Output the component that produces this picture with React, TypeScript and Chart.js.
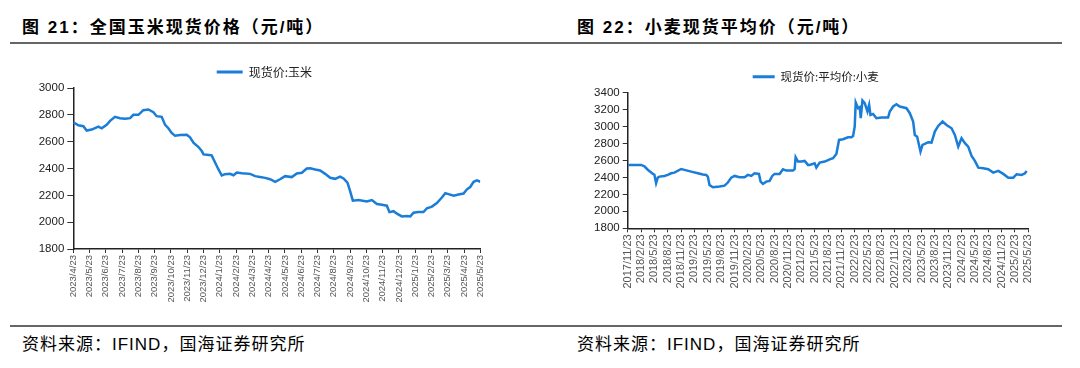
import React, { useEffect, useRef } from 'react';
import { Chart, registerables } from 'chart.js';

Chart.register(...registerables);

// ---------- Data ----------
const cornTitle = '图 21：全国玉米现货价格（元/吨）';
const wheatTitle = '图 22：小麦现货平均价（元/吨）';
const sourceText = '资料来源：IFIND，国海证券研究所';
const cornSeriesName = '现货价:玉米';
const wheatSeriesName = '现货价:平均价:小麦';

// monthly tick labels (x = months since 2023/4/23)
const cornTickLabels = [
  '2023/4/23', '2023/5/23', '2023/6/23', '2023/7/23', '2023/8/23', '2023/9/23',
  '2023/10/23', '2023/11/23', '2023/12/23', '2024/1/23', '2024/2/23', '2024/3/23',
  '2024/4/23', '2024/5/23', '2024/6/23', '2024/7/23', '2024/8/23', '2024/9/23',
  '2024/10/23', '2024/11/23', '2024/12/23', '2025/1/23', '2025/2/23', '2025/3/23',
  '2025/4/23', '2025/5/23',
];
const cornX = [
  0, 0.31, 0.62, 0.82, 1.13, 1.54, 1.74, 2.05, 2.26, 2.56, 2.87, 3.18, 3.49, 3.69,
  4.0, 4.3, 4.61, 4.92, 5.12, 5.43, 5.64, 5.84, 6.04, 6.25, 6.56, 6.97, 7.17, 7.38,
  7.69, 7.89, 8.0, 8.2, 8.5, 8.71, 8.91, 9.12, 9.32, 9.63, 9.84, 10.04, 10.35, 10.86,
  11.17, 11.47, 11.78, 12.09, 12.4, 12.7, 13.01, 13.42, 13.73, 14.04, 14.34, 14.55,
  14.86, 15.16, 15.47, 15.78, 16.08, 16.39, 16.6, 16.84, 17.0, 17.17, 17.52, 18.03,
  18.34, 18.65, 18.96, 19.26, 19.42, 19.67, 19.88, 20.18, 20.49, 20.7, 20.9, 21.2,
  21.51, 21.72, 22.03, 22.33, 22.64, 22.85, 23.05, 23.36, 23.66, 23.97, 24.18, 24.38,
  24.59, 24.79, 25.0,
];
const cornPrice = [
  2745, 2722, 2715, 2683, 2690, 2712, 2700, 2725, 2755, 2785, 2775, 2770, 2775, 2800,
  2800, 2835, 2840, 2820, 2790, 2785, 2725, 2700, 2665, 2645, 2650, 2652, 2633, 2592,
  2560, 2530, 2505, 2503, 2498, 2445, 2395, 2348, 2358, 2360, 2350, 2370, 2365, 2360,
  2343, 2337, 2330, 2320, 2300, 2320, 2343, 2336, 2363, 2368, 2400, 2402,
  2392, 2385, 2360, 2331, 2323, 2340, 2326, 2294, 2233, 2160, 2165, 2155,
  2165, 2135, 2130, 2123, 2075, 2082, 2063, 2043, 2046, 2043, 2070, 2075,
  2075, 2104, 2116, 2143, 2184, 2216, 2209, 2197, 2206, 2213, 2245, 2262,
  2301, 2311, 2301,
];

// quarterly tick labels (x = months since 2017/11/23)
const wheatTickLabels = [
  '2017/11/23', '2018/2/23', '2018/5/23', '2018/8/23', '2018/11/23', '2019/2/23',
  '2019/5/23', '2019/8/23', '2019/11/23', '2020/2/23', '2020/5/23', '2020/8/23',
  '2020/11/23', '2021/2/23', '2021/5/23', '2021/8/23', '2021/11/23', '2022/2/23',
  '2022/5/23', '2022/8/23', '2022/11/23', '2023/2/23', '2023/5/23', '2023/8/23',
  '2023/11/23', '2024/2/23', '2024/5/23', '2024/8/23', '2024/11/23', '2025/2/23',
  '2025/5/23',
];
const wheatX = [
  0, 3.0, 3.76, 4.51, 5.63, 6.0, 6.38, 6.76, 7.13, 8.26, 9.0, 9.76, 10.5, 12.0, 12.76,
  14.26, 15.76, 16.88, 17.63, 18.0, 18.38, 19.13, 20.63, 21.76, 22.5, 23.26, 24.0,
  25.13, 26.26, 27.0, 27.76, 28.5, 29.48, 29.86, 30.38, 31.13, 31.88, 32.48, 33.0,
  34.13, 34.88, 35.63, 37.13, 37.5, 37.73, 38.26, 39.0, 39.76, 40.5, 40.88, 42.0,
  42.38, 43.13, 44.26, 45.38, 46.13, 46.88, 47.48, 48.38, 49.5, 50.26, 50.63, 51.0,
  51.23, 51.76, 52.13, 52.36, 52.74, 53.25, 53.86, 54.24, 54.54, 55.13, 55.88, 57.0,
  58.5, 58.88, 59.63, 60.38, 61.13, 62.63, 63.38, 64.13, 64.5, 65.03, 65.78, 66.23,
  66.76, 67.5, 68.26, 69.0, 69.76, 70.74, 71.63, 72.76, 73.5, 74.26, 75.0, 75.76,
  76.5, 77.26, 78.0, 78.76, 79.88, 81.0, 82.13, 83.26, 84.38, 85.5, 86.63, 87.38,
  88.5, 89.26, 89.63,
];
const wheatPrice = [
  2547, 2547, 2530, 2490, 2444, 2430, 2331, 2397, 2409, 2417, 2429, 2448, 2456, 2499, 2488,
  2468, 2448, 2433, 2429, 2409, 2311, 2284, 2292, 2303, 2339, 2397, 2417,
  2401, 2401, 2429, 2417, 2448, 2441, 2350, 2323, 2350, 2358, 2417, 2441,
  2441, 2496, 2480, 2480, 2496, 2637, 2586, 2586, 2594, 2547, 2547, 2566,
  2515, 2574, 2586, 2613, 2625, 2676, 2841, 2849, 2873, 2873, 2888, 2998,
  3282, 3215, 3227, 3097, 3305, 3274, 3176, 3254, 3136, 3148, 3097, 3105,
  3105, 3176, 3235, 3262, 3235, 3215, 3156, 3058, 2900, 2880, 2703, 2782,
  2794, 2814, 2810, 2939, 3006, 3058, 3018, 2979, 2900, 2763, 2861, 2802,
  2763, 2652, 2594, 2515, 2507, 2496, 2456, 2476, 2441, 2397, 2397, 2437,
  2429, 2448, 2476,
];

const LINE_COLOR = '#1A7DD8';

// Moves the (single-item) legend horizontally so that its item starts at opts.target.
const legendShift = {
  id: 'legendShift',
  afterLayout(chart: any, _args: any, opts: any) {
    const lg = chart.legend;
    if (!lg || !lg.lineWidths || opts == null || opts.target == null) return;
    const p = lg.options.labels.padding;
    const itemW = lg.lineWidths[0] - p;
    const cur = (lg.left + lg.right - itemW) / 2;
    const dx = opts.target - cur;
    lg.left += dx;
    lg.right += dx;
  },
};

type PanelSpec = {
  xs: number[];
  ys: number[];
  name: string;
  tickLabels: string[];
  xStep: number;
  yMin: number;
  yMax: number;
  width: number;
  height: number;
  padRight: number;
  legendPad: number;
  legendFont: number;
  legendBox: number;
  legendX: number;
  yWidth: number;
  xHeight: number;
  yTickLen: number;
  xFont: number;
  yFont: number;
};

function ChartPanel({ spec, left, top }: { spec: PanelSpec; left: number; top: number }) {
  const ref = useRef<HTMLCanvasElement | null>(null);
  useEffect(() => {
    if (!ref.current) return;
    const s = spec;
    const data = s.xs.map((x, i) => ({ x, y: s.ys[i] }));
    const chart = new Chart(ref.current, {
      type: 'line',
      data: {
        datasets: [
          {
            label: s.name,
            data,
            borderColor: LINE_COLOR,
            backgroundColor: LINE_COLOR,
            borderWidth: 2.5,
            pointRadius: 0,
            tension: 0,
            fill: false,
          },
        ],
      },
      plugins: [legendShift],
      options: {
        responsive: false,
        animation: false,
        devicePixelRatio: 1,
        layout: { padding: { left: 0, right: s.padRight, top: 0, bottom: 0 } },
        plugins: {
          tooltip: { enabled: false },
          legendShift: { target: s.legendX },
          legend: {
            display: true,
            position: 'top',
            align: 'center',
            labels: {
              boxWidth: s.legendBox,
              boxHeight: 3,
              padding: s.legendPad,
              color: '#222',
              font: { family: '"Noto Sans CJK SC", sans-serif', size: s.legendFont },
              generateLabels: (c: any) =>
                Chart.defaults.plugins.legend.labels
                  .generateLabels(c)
                  .map((l: any) => ({ ...l, lineWidth: 0, fillStyle: LINE_COLOR })),
            },
          },
        },
        scales: {
          x: {
            type: 'linear',
            min: 0,
            max: (s.tickLabels.length - 1) * s.xStep,
            afterFit: (sc: any) => {
              sc.height = s.xHeight;
            },
            afterBuildTicks: (sc: any) => {
              sc.ticks = s.tickLabels.map((_, i) => ({ value: i * s.xStep }));
            },
            ticks: {
              autoSkip: false,
              minRotation: 90,
              maxRotation: 90,
              padding: 2,
              color: '#555',
              font: { family: '"Liberation Sans", Arial, sans-serif', size: s.xFont },
              callback: (v: any) => {
                const idx = Math.round(Number(v) / s.xStep);
                return s.tickLabels[idx] ?? '';
              },
            },
            grid: {
              display: true,
              drawOnChartArea: false,
              drawTicks: true,
              tickLength: 4,
              color: '#333',
              lineWidth: 1,
            },
            border: { display: true, color: '#222', width: 1.5 },
          },
          y: {
            type: 'linear',
            min: s.yMin,
            max: s.yMax,
            afterFit: (sc: any) => {
              sc.width = s.yWidth;
            },
            ticks: {
              stepSize: 200,
              padding: 3,
              color: '#222',
              font: { family: '"Liberation Sans", Arial, sans-serif', size: s.yFont },
              callback: (v: any) => String(v),
            },
            grid: {
              display: true,
              drawOnChartArea: false,
              drawTicks: true,
              tickLength: s.yTickLen,
              color: '#333',
              lineWidth: 1,
            },
            border: { display: true, color: '#222', width: 1.5 },
          },
        },
      },
    } as any);
    return () => chart.destroy();
  }, [spec]);
  return (
    <canvas
      ref={ref}
      width={spec.width}
      height={spec.height}
      style={{ position: 'absolute', left, top, width: spec.width, height: spec.height }}
    />
  );
}

const cornSpec: PanelSpec = {
  xs: cornX,
  ys: cornPrice,
  name: cornSeriesName,
  tickLabels: cornTickLabels,
  xStep: 1,
  yMin: 1800,
  yMax: 3000,
  width: 480,
  height: 275,
  padRight: 19.7,
  legendPad: 16,
  legendFont: 12,
  legendBox: 26,
  legendX: 196.7,
  yWidth: 53.3,
  xHeight: 76,
  yTickLen: 6,
  xFont: 9.5,
  yFont: 11.5,
};

const wheatSpec: PanelSpec = {
  xs: wheatX,
  ys: wheatPrice,
  name: wheatSeriesName,
  tickLabels: wheatTickLabels,
  xStep: 3,
  yMin: 1800,
  yMax: 3400,
  width: 500,
  height: 275,
  padRight: 31.7,
  legendPad: 21,
  legendFont: 11.5,
  legendBox: 22,
  legendX: 192.7,
  yWidth: 67.7,
  xHeight: 96.7,
  yTickLen: 5,
  xFont: 11,
  yFont: 11.5,
};

const titleStyle: React.CSSProperties = {
  position: 'absolute',
  top: 19,
  fontFamily: '"Liberation Sans", "Noto Sans CJK SC", sans-serif',
  fontWeight: 'bold',
  fontSize: 17,
  lineHeight: '17px',
  letterSpacing: '2px',
  color: '#000',
  whiteSpace: 'nowrap',
};

const sourceStyle: React.CSSProperties = {
  position: 'absolute',
  top: 336,
  fontFamily: '"Liberation Sans", "Noto Sans CJK SC", sans-serif',
  fontSize: 17,
  lineHeight: '17px',
  letterSpacing: '1px',
  color: '#000',
  whiteSpace: 'nowrap',
};

const ruleStyle: React.CSSProperties = {
  position: 'absolute',
  left: 10,
  width: 1052,
  height: 2,
  background: '#666',
};

export default function App() {
  return (
    <div
      style={{
        position: 'absolute',
        left: 0,
        top: 0,
        width: 1080,
        height: 368,
        background: '#fff',
        overflow: 'hidden',
      }}
    >
      <div style={{ ...titleStyle, left: 22 }}>{cornTitle}</div>
      <div style={{ ...titleStyle, left: 577 }}>{wheatTitle}</div>
      <div style={{ ...ruleStyle, top: 42 }} />
      <ChartPanel spec={cornSpec} left={20} top={50} />
      <ChartPanel spec={wheatSpec} left={560} top={50} />
      <div style={{ ...ruleStyle, top: 325 }} />
      <div style={{ ...sourceStyle, left: 22 }}>{sourceText}</div>
      <div style={{ ...sourceStyle, left: 577 }}>{sourceText}</div>
    </div>
  );
}
